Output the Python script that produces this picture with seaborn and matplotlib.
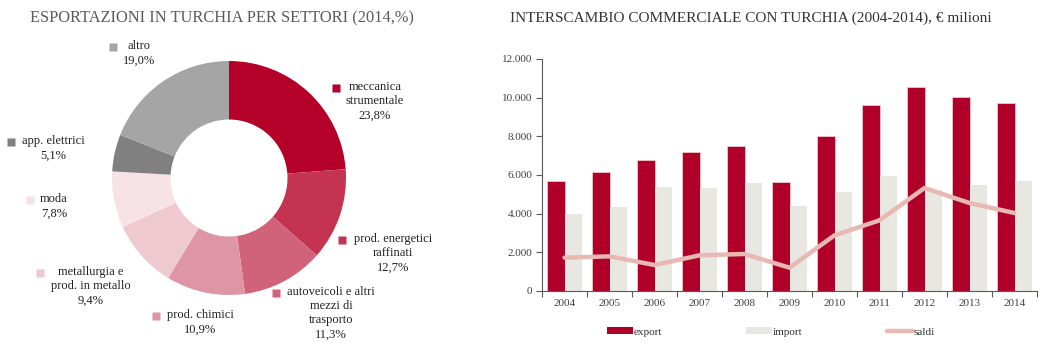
import numpy as np
import pandas as pd
import matplotlib
matplotlib.use('Agg')
import matplotlib.pyplot as plt
from matplotlib.patches import Patch
from matplotlib.lines import Line2D
from matplotlib.ticker import FuncFormatter, FixedLocator
import seaborn as sns

# Pie data: export by sector, 2014 (%)
settori = ['meccanica\nstrumentale', 'prod. energetici\nraffinati',
           'autoveicoli e altri\nmezzi di\ntrasporto', 'prod. chimici',
           'metallurgia e\nprod. in metallo', 'moda', 'app. elettrici', 'altro']
quote = [23.8, 12.7, 11.3, 10.9, 9.4, 7.8, 5.1, 19.0]
colori_settori = ['#B5002A', '#C43350', '#D0637A', '#DE95A5',
                  '#EEC9D0', '#F7E3E7', '#808080', '#A5A5A5']

# Bar data: trade with Turkey, million euro
anni = ['2004', '2005', '2006', '2007', '2008', '2009',
        '2010', '2011', '2012', '2013', '2014']
export = [5672, 6155, 6760, 7172, 7483, 5621, 8000, 9603, 10569, 10052, 9741]
import_ = [3966, 4362, 5397, 5345, 5586, 4414, 5138, 5966, 5207, 5500, 5707]
saldi = [1724, 1793, 1345, 1845, 1914, 1207, 2879, 3655, 5327, 4552, 4034]

sns.set_theme(style='white')
plt.rcParams['font.family'] = ['Liberation Serif', 'DejaVu Serif']

W, H = 1045, 362
fig = plt.figure(figsize=(W / 100, H / 100), dpi=100)

txt = '#404040'

# ---- donut chart
cx, cy, r = 229, 178, 117
ax_pie = fig.add_axes([(cx - r) / W, (H - cy - r) / H, 2 * r / W, 2 * r / H])
ax_pie.pie(quote, colors=colori_settori, startangle=90, counterclock=False,
           radius=1.0, wedgeprops=dict(width=0.5, edgecolor='none'))
ax_pie.set_xlim(-1, 1)
ax_pie.set_ylim(-1, 1)
ax_pie.set_aspect('equal')

# overlay in pixel coordinates for titles and pie labels
ov = fig.add_axes([0, 0, 1, 1], facecolor='none')
ov.set_xlim(0, W)
ov.set_ylim(H, 0)
ov.axis('off')

ov.text(30, 18, 'ESPORTAZIONI IN TURCHIA PER SETTORI (2014,%)', fontsize=11.8,
        color='#595959', va='center', ha='left')
ov.text(510, 18, 'INTERSCAMBIO COMMERCIALE CON TURCHIA (2004-2014), € milioni',
        fontsize=11.0, color='#333333', va='center', ha='left')

# (square x, square y, text centre x)
pos_label = [(336, 88, 375), (342, 240, 393), (276, 293, 331), (156, 316, 200),
             (40, 273, 91), (30, 200, 54), (11, 142, 53), (113, 47, 139)]
for nome, q, col, (sx, sy, tx) in zip(settori, quote, colori_settori, pos_label):
    ov.plot(sx, sy, marker='s', ms=5.5, color=col, mec='none')
    label = nome + '\n' + f'{q:.1f}%'.replace('.', ',')
    ov.text(tx, sy - 7, label, fontsize=9, color='#222222', ha='center',
            va='top', multialignment='center', linespacing=1.25)

# ---- bar chart
ax = fig.add_axes([542 / W, (H - 291) / H, (1037 - 542) / W, (291 - 59) / H])
df = pd.DataFrame({
    'anno': anni * 2,
    'valore': export + import_,
    'serie': ['export'] * len(anni) + ['import'] * len(anni),
})
sns.barplot(data=df, x='anno', y='valore', hue='serie', ax=ax,
            palette=['#B0002A', '#E8E7E2'], width=0.76, legend=False,
            edgecolor='none', saturation=1)
# thin pale outline on top of export bars
for p in ax.patches[:len(anni)]:
    p.set_edgecolor('#F0C8C8')
    p.set_linewidth(0.6)
sns.lineplot(x=np.arange(len(anni)), y=saldi, ax=ax, color='#E8B8B2',
             linewidth=3.2, legend=False)

ax.set_xlim(-0.5, len(anni) - 0.5)
ax.set_ylim(0, 12000)
ax.set_yticks(np.arange(0, 12001, 2000))
ax.yaxis.set_major_formatter(FuncFormatter(lambda v, p: f'{int(v):,}'.replace(',', '.')))
ax.set_xlabel('')
ax.set_ylabel('')
ax.xaxis.set_minor_locator(FixedLocator(np.arange(-0.5, len(anni), 1)))
ax.tick_params(axis='x', which='major', length=0, pad=6, labelsize=8, labelcolor=txt)
ax.tick_params(axis='x', which='minor', length=4, width=0.8, color='#595959',
               direction='out', bottom=True)
ax.tick_params(axis='y', which='major', length=4, width=0.8, color='#595959',
               direction='out', left=True, labelsize=8, labelcolor=txt, pad=3)
for s in ['top', 'right']:
    ax.spines[s].set_visible(False)
for s in ['left', 'bottom']:
    ax.spines[s].set_color('#595959')
    ax.spines[s].set_linewidth(0.8)
ax.set_facecolor('none')

handles = [Patch(facecolor='#B0002A', edgecolor='none'),
           Patch(facecolor='#E8E7E2', edgecolor='none'),
           Line2D([0], [0], color='#E8B8B2', linewidth=3.2, solid_capstyle='round')]
fig.legend(handles, ['export', 'import', 'saldi'], loc='center left',
           bbox_to_anchor=(597 / W, 1 - 332 / H), ncol=3, frameon=False,
           fontsize=8, handlelength=2.3, handleheight=0.6, handletextpad=0.1,
           columnspacing=7.6, labelcolor='#333333')

fig.savefig('out.png', dpi=100)
